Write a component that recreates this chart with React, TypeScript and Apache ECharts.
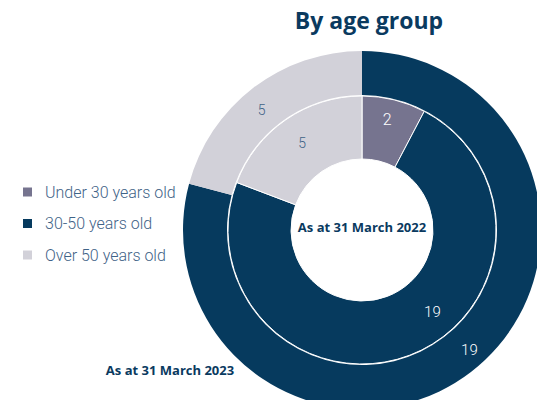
import React, { useEffect, useRef } from "react";
import * as echarts from "echarts";

const categories = ["Under 30 years old", "30-50 years old", "Over 50 years old"];
const values2022 = [2, 19, 5];
const values2023 = [0, 19, 5];
const colors = ["#76748f", "#063a5e", "#d2d1d9"];
const labelColors = ["#ffffff", "#ffffff", "#3f6387"];
const titleText = "By age group";
const label2022 = "As at 31 March 2022";
const label2023 = "As at 31 March 2023";

export default function App() {
  const ref = useRef<HTMLDivElement>(null);
  useEffect(() => {
    if (!ref.current) return;
    const chart = echarts.init(ref.current, null, { renderer: "svg" });
    const font = "Roboto, 'Open Sans', sans-serif";
    const boldFont = "'Open Sans', Roboto, sans-serif";
    const center = [362, 230];
    const mkData = (vals: number[], sizes: number[]) =>
      vals.map((v, i) => ({
        name: categories[i],
        value: v,
        itemStyle: { color: colors[i] },
        label: {
          show: v > 0,
          color: labelColors[i],
          fontSize: sizes[i],
        },
      }));
    chart.setOption({
      animation: false,
      backgroundColor: "#ffffff",
      legend: {
        orient: "vertical",
        left: 16,
        top: 178,
        itemWidth: 11,
        itemHeight: 11,
        itemGap: 13.5,
        icon: "rect",
        data: categories,
        textStyle: {
          fontFamily: font,
          fontSize: 16,
          fontWeight: 300,
          color: "#3f6387",
          lineHeight: 18,
          padding: [0, 0, 0, 7],
        },
      },
      graphic: [
        {
          type: "text",
          x: 369,
          y: 20,
          style: {
            text: titleText,
            font: `bold 23px ${boldFont}`,
            fill: "#0a3a5f",
            align: "center",
            verticalAlign: "middle",
          },
        },
        {
          type: "text",
          x: 362,
          y: 227,
          z: 10,
          style: {
            text: label2022,
            font: `bold 13px ${boldFont}`,
            fill: "#0a3a5f",
            align: "center",
            verticalAlign: "middle",
          },
        },
        {
          type: "text",
          x: 170,
          y: 370,
          style: {
            text: label2023,
            font: `bold 13px ${boldFont}`,
            fill: "#0a3a5f",
            align: "center",
            verticalAlign: "middle",
          },
        },
      ],
      series: [
        {
          name: "2022",
          type: "pie",
          center,
          radius: [71, 134],
          startAngle: 90,
          clockwise: true,
          silent: true,
          itemStyle: { borderColor: "#ffffff", borderWidth: 1 },
          label: {
            position: "inside",
            formatter: "{c}",
            fontFamily: font,
            fontWeight: 300,
          },
          labelLayout: (p: any) =>
            p.dataIndex === 1 ? { dx: 33, dy: -17 } : p.dataIndex === 0 ? { dy: -8 } : {},
          labelLine: { show: false },
          data: mkData(values2022, [16, 15, 14]),
        },
        {
          name: "2023",
          type: "pie",
          center,
          radius: [135, 179],
          startAngle: 90,
          clockwise: true,
          silent: true,
          itemStyle: { borderWidth: 0 },
          label: {
            position: "inside",
            formatter: "{c}",
            fontFamily: font,
            fontWeight: 300,
          },
          labelLayout: (p: any) =>
            p.dataIndex === 1 ? { dx: 10, dy: -7 } : p.dataIndex === 2 ? { dx: -3, dy: 7 } : {},
          labelLine: { show: false },
          data: mkData(values2023, [14, 15, 14]),
        },
      ],
    });
    return () => chart.dispose();
  }, []);
  return (
    <div
      ref={ref}
      style={{ position: "fixed", left: 0, top: 0, width: 537, height: 400 }}
    />
  );
}
